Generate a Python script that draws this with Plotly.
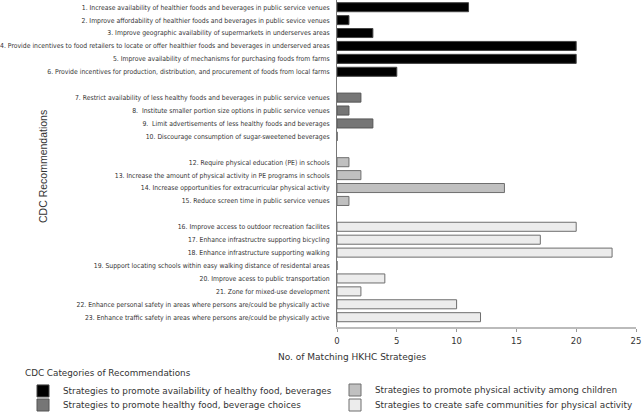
import plotly.graph_objects as go

# ---- data ----
category_names = [
    "Strategies to promote availability of healthy food, beverages",
    "Strategies to promote healthy food, beverage choices",
    "Strategies to promote physical activity among children",
    "Strategies to create safe communities for physical activity",
]
labels_food_availability = [
    "1. Increase availability of healthier foods and beverages in public service venues",
    "2. Improve affordability of healthier foods and beverages in public sevice venues",
    "3. Improve geographic availability of supermarkets in underserves areas",
    "4. Provide incentives to food retailers to locate or offer healthier foods and beverages in underserved areas",
    "5. Improve availability of mechanisms for purchasing foods from farms",
    "6. Provide incentives for production, distribution, and procurement of foods from local farms",
]
values_food_availability = [11, 1, 3, 20, 20, 5]

labels_food_choices = [
    "7. Restrict availability of less healthy foods and beverages in public service venues",
    "8.  Institute smaller portion size options in public service venues",
    "9.  Limit advertisements of less healthy foods and beverages",
    "10. Discourage consumption of sugar-sweetened beverages",
]
values_food_choices = [2, 1, 3, 0]

labels_pa_children = [
    "12. Require physical education (PE) in schools",
    "13. Increase the amount of physical activity in PE programs in schools",
    "14. Increase opportunities for extracurricular physical activity",
    "15. Reduce screen time in public service venues",
]
values_pa_children = [1, 2, 14, 1]

labels_safe_communities = [
    "16. Improve access to outdoor recreation facilites",
    "17. Enhance infrastructre supporting bicycling",
    "18. Enhance infrastructure supporting walking",
    "19. Support locating schools within easy walking distance of residental areas",
    "20. Improve acess to public transportation",
    "21. Zone for mixed-use development",
    "22. Enhance personal safety in areas where persons are/could be physically active",
    "23. Enhance traffic safety in areas where persons are/could be physically active",
]
values_safe_communities = [20, 17, 23, 0, 4, 2, 10, 12]

x_ticks = [0, 5, 10, 15, 20, 25]

groups = [
    (labels_food_availability, values_food_availability),
    (labels_food_choices, values_food_choices),
    (labels_pa_children, values_pa_children),
    (labels_safe_communities, values_safe_communities),
]
colors = ["#000000", "#767676", "#c0c0c0", "#ececec"]
line_colors = ["#444444", "#555555", "#6e6e6e", "#6e6e6e"]
legend_ids = ["legend", "legend2", "legend3", "legend4"]

# category order with blank spacer rows between groups
category_order = []
for i, (labs, _) in enumerate(groups):
    if i > 0:
        category_order.append(" " * i)
    category_order.extend(labs)

fig = go.Figure()
for i, (labs, vals) in enumerate(groups):
    fig.add_trace(go.Bar(
        y=labs, x=vals, orientation="h", name=category_names[i],
        marker=dict(color=colors[i], line=dict(color=line_colors[i], width=1)),
        width=0.7, legend=legend_ids[i],
    ))

W, H = 642, 412
L, R, T, B = 337, 6, 0, 85
pw, ph = W - L - R, H - T - B
n = len(category_order)
row = 12.917
top = -7.2 / row
bot = (n - 1) + (ph - 317.2) / row

def px_x(p):
    return (p - L) / pw

def px_y(p):
    return (H - B - p) / ph

leg_font = dict(size=8.8, color="#333333")

def leg(xp, yp, anchor="middle", title=None):
    d = dict(orientation="v", x=px_x(xp), xanchor="left", y=px_y(yp), yanchor=anchor,
             font=leg_font, bgcolor="rgba(0,0,0,0)", itemwidth=30,
             itemclick=False, itemdoubleclick=False)
    if title:
        d["title"] = dict(text=title, font=leg_font)
    return d

fig.update_layout(
    width=W, height=H,
    margin=dict(l=L, r=R, t=T, b=B, autoexpand=False),
    paper_bgcolor="white", plot_bgcolor="white",
    font=dict(family="DejaVu Sans, Verdana, sans-serif", size=8.5, color="#333333"),
    showlegend=True,
    legend=leg(23, 365, anchor="top", title="CDC Categories of Recommendations"),
    legend2=leg(23, 405),
    legend3=leg(335, 390),
    legend4=leg(335, 405),
    xaxis=dict(
        range=[0, 25], tickvals=x_ticks, showgrid=False, zeroline=False,
        showline=True, linecolor="#bbbbbb", linewidth=2,
        ticks="outside", ticklen=3, tickcolor="#999999", tickwidth=1,
        tickfont=dict(size=8.5, color="#333333"),
        ticklabelstandoff=2,
    ),
    yaxis=dict(
        type="category", categoryorder="array", categoryarray=category_order,
        range=[bot, top], showgrid=False, zeroline=False,
        showline=True, linecolor="#777777", linewidth=1,
        ticks="", ticklabelstandoff=5,
        tickfont=dict(family="DejaVu Sans Condensed, Liberation Sans Narrow, sans-serif",
                      size=6.8, color="#333333"),
    ),
    annotations=[
        dict(text="No. of Matching HKHC Strategies", xref="paper", yref="paper",
             x=px_x(352), y=px_y(357), xanchor="center", yanchor="middle",
             showarrow=False, font=dict(size=9, color="#333333")),
        dict(text="CDC Recommendations", xref="paper", yref="paper",
             x=px_x(43), y=px_y(167), xanchor="center", yanchor="middle",
             textangle=-90, showarrow=False,
             font=dict(family="Liberation Sans, Arial, sans-serif", size=10.5, color="#333333")),
    ],
)

fig.write_html("out.html", config={"displayModeBar": False},
               post_script="document.body.style.margin='0';document.body.style.padding='0';")
